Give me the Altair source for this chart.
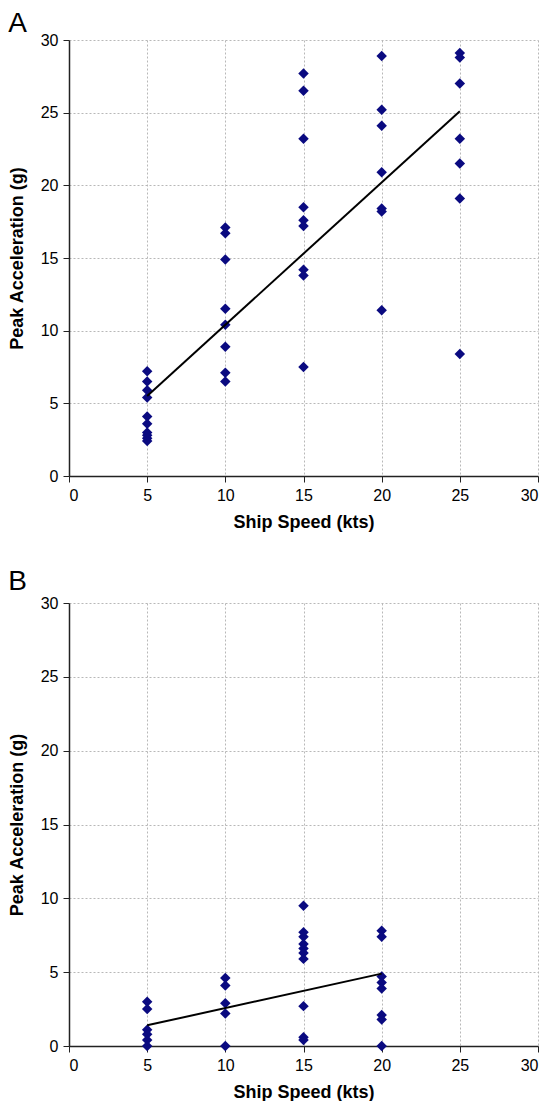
import altair as alt
import pandas as pd

# Panel A data
a_speed = [5, 5, 5, 5, 5, 5, 5, 5, 5, 5,
           10, 10, 10, 10, 10, 10, 10, 10,
           15, 15, 15, 15, 15, 15, 15, 15, 15,
           20, 20, 20, 20, 20, 20, 20,
           25, 25, 25, 25, 25, 25, 25]
a_accel = [7.2, 6.5, 5.9, 5.4, 4.1, 3.6, 3.0, 2.8, 2.6, 2.4,
           17.1, 16.7, 14.9, 11.5, 10.4, 8.9, 7.1, 6.5,
           27.7, 26.5, 23.2, 18.5, 17.6, 17.2, 14.2, 13.8, 7.5,
           28.9, 25.2, 24.1, 20.9, 18.4, 18.2, 11.4,
           29.1, 28.8, 27.0, 23.2, 21.5, 19.1, 8.4]
a_trend_speed = [5, 25]
a_trend_accel = [5.5, 25.1]

# Panel B data
b_speed = [5, 5, 5, 5, 5, 5,
           10, 10, 10, 10, 10,
           15, 15, 15, 15, 15, 15, 15, 15, 15, 15,
           20, 20, 20, 20, 20, 20, 20, 20]
b_accel = [3.0, 2.5, 1.1, 0.8, 0.4, 0.0,
           4.6, 4.1, 2.9, 2.2, 0.0,
           9.5, 7.7, 7.4, 6.9, 6.6, 6.3, 5.9, 2.7, 0.6, 0.4,
           7.8, 7.4, 4.7, 4.3, 3.9, 2.1, 1.8, 0.0]
b_trend_speed = [5, 20]
b_trend_accel = [1.4, 4.9]

tick_values = [0, 5, 10, 15, 20, 25, 30]

FONT = "Liberation Sans"
POINT_COLOR = "#0A0A80"


def panel(letter, speed, accel, tx, ty, height, offset):
    pts = pd.DataFrame({"speed": speed, "accel": accel})
    trend = pd.DataFrame({"speed": tx, "accel": ty})
    xenc = alt.X(
        "speed:Q",
        scale=alt.Scale(domain=[0, 30], nice=False),
        axis=alt.Axis(values=tick_values, title="Ship Speed (kts)"),
    )
    yenc = alt.Y(
        "accel:Q",
        scale=alt.Scale(domain=[0, 30], nice=False),
        axis=alt.Axis(values=tick_values, title="Peak Acceleration (g)"),
    )
    points = alt.Chart(pts).mark_point(
        shape="diamond", filled=True, size=110, color=POINT_COLOR, opacity=1
    ).encode(x=xenc, y=yenc)
    line = alt.Chart(trend).mark_line(color="black", strokeWidth=2).encode(
        x="speed:Q", y="accel:Q"
    )
    return alt.layer(points, line).properties(
        width=469,
        height=height,
        title=alt.TitleParams(
            letter, anchor="start", frame="bounds", fontSize=28,
            fontWeight="normal", font=FONT, color="black", offset=offset,
        ),
    )


chart = alt.vconcat(
    panel("A", a_speed, a_accel, a_trend_speed, a_trend_accel, 436, -6),
    panel("B", b_speed, b_accel, b_trend_speed, b_trend_accel, 443, -1),
    spacing=37,
).properties(padding={"left": 0, "top": 2, "right": 0, "bottom": 0}).configure_view(
    stroke=None
).configure_axis(
    grid=True,
    gridColor="#b8b8b8",
    gridDash=[2, 2],
    gridWidth=1,
    domainColor="#222222",
    domainWidth=1.5,
    tickColor="#222222",
    tickSize=6,
    labelFont=FONT,
    labelFontSize=16,
    labelColor="black",
    labelPadding=5,
    titleFont=FONT,
    titleFontSize=18,
    titleFontWeight="bold",
    titleColor="black",
).configure_axisY(titlePadding=14).configure_axisX(titlePadding=10)

chart.save("out.html", embed_options={"renderer": "svg", "actions": False})
